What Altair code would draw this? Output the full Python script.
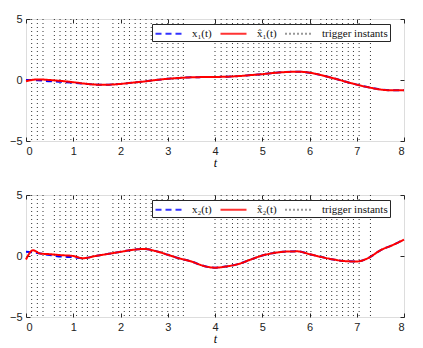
import altair as alt
import pandas as pd

# ---- data ----
t_grid = [0, 0.25, 0.5, 0.75, 1.0, 1.25, 1.5, 1.75, 2.0, 2.25, 2.5, 2.75, 3.0, 3.25,
          3.5, 3.75, 4.0, 4.25, 4.5, 4.75, 5.0, 5.25, 5.5, 5.75, 6.0, 6.25, 6.5,
          6.75, 7.0, 7.25, 7.5, 7.75, 8.0]

x1_true = [0.0, -0.02, -0.1, -0.15, -0.22, -0.3, -0.38, -0.38, -0.32, -0.22, -0.12, 0.0,
           0.1, 0.17, 0.22, 0.24, 0.25, 0.27, 0.32, 0.4, 0.48, 0.58, 0.65, 0.68, 0.6,
           0.4, 0.15, -0.12, -0.38, -0.6, -0.78, -0.85, -0.85]
x1_hat = [-0.1, 0.05, 0.0, -0.08, -0.18, -0.3, -0.38, -0.38, -0.32, -0.22, -0.12, 0.0,
          0.1, 0.17, 0.22, 0.24, 0.25, 0.27, 0.32, 0.4, 0.48, 0.58, 0.65, 0.68, 0.6,
          0.4, 0.15, -0.12, -0.38, -0.6, -0.78, -0.85, -0.85]

t2_grid = [0, 0.15, 0.3, 0.5, 0.75, 1.0, 1.2, 1.5, 1.75, 2.0, 2.25, 2.5, 2.75, 3.0,
           3.25, 3.5, 3.75, 4.0, 4.25, 4.5, 4.75, 5.0, 5.25, 5.5, 5.75, 6.0, 6.25,
           6.5, 6.75, 7.0, 7.25, 7.5, 7.75, 8.0]
x2_true = [0.34, 0.3, 0.2, 0.08, -0.05, -0.1, -0.18, 0.02, 0.18, 0.34, 0.5, 0.58, 0.4,
           0.1, -0.2, -0.45, -0.8, -0.96, -0.85, -0.65, -0.3, 0.04, 0.25, 0.36, 0.38,
           0.15, -0.08, -0.28, -0.42, -0.45, -0.15, 0.47, 0.88, 1.34]
x2_hat = [-0.28, 0.47, 0.2, 0.15, 0.07, 0.0, -0.18, 0.02, 0.18, 0.34, 0.5, 0.58, 0.4,
          0.1, -0.2, -0.45, -0.8, -0.96, -0.85, -0.65, -0.3, 0.04, 0.25, 0.36, 0.38,
          0.15, -0.08, -0.28, -0.42, -0.45, -0.15, 0.47, 0.88, 1.34]

triggers = [0.12, 0.24, 0.36, 0.60, 0.72, 0.84, 0.95, 1.07, 1.19, 1.30, 1.42, 1.53,
            1.84, 1.96, 2.08, 2.19, 2.31, 2.42, 2.54, 2.65, 2.77, 2.88, 3.00, 3.11,
            3.22, 3.33, 4.00, 4.13, 4.25, 4.37, 4.48, 4.59, 4.70, 4.82, 4.93, 5.03,
            5.13, 5.25, 5.36, 5.48, 5.59, 5.71, 5.82, 5.94, 6.03, 6.24, 6.36, 6.47,
            6.58, 6.70, 6.82, 6.93, 7.05, 7.29]

x_ticks = [0, 1, 2, 3, 4, 5, 6, 7, 8]
y_ticks = [-5, 0, 5]

BLUE = "#0000ff"
RED = "#ff0000"
BOX = "#262626"


def panel(t_vals, true_vals, hat_vals, lab_true, lab_hat):
    trig_lab = "trigger instants"
    domain = [lab_true, lab_hat, trig_lab]
    color = alt.Color("series:N", scale=alt.Scale(domain=domain, range=[BLUE, RED, "#000000"]),
                      legend=alt.Legend(title=None, orient="none", legendX=126, legendY=5,
                                        direction="horizontal",
                                        columns=3, fillColor="white", strokeColor=BOX,
                                        padding=2, symbolType="M-2,0H2",
                                        symbolSize=169, symbolStrokeWidth=2,
                                        symbolOffset=7, labelOffset=16,
                                        labelFont="Liberation Serif", labelFontSize=11,
                                        columnPadding=4, labelColor="#111"))
    dash = alt.StrokeDash("series:N",
                          scale=alt.Scale(domain=domain, range=[[6, 4], [1, 0], [1, 3]]),
                          legend=None)
    xs = alt.Scale(domain=[0, 8], nice=False, zero=False)
    ys = alt.Scale(domain=[-5, 5], nice=False)

    df_true = pd.DataFrame({"t": t_vals, "v": true_vals, "series": lab_true})
    df_hat = pd.DataFrame({"t": t_vals, "v": hat_vals, "series": lab_hat})
    df_trig = pd.DataFrame({"t": triggers, "series": trig_lab})

    x_axis = alt.Axis(values=x_ticks, orient="bottom", offset=-4, tickSize=4, labelPadding=4,
                      domain=False, grid=False, title="t", titleFont="Liberation Serif",
                      titleFontStyle="italic", titleFontWeight="normal", titleFontSize=12,
                      titlePadding=1, labelFont="Liberation Sans", labelFontSize=11,
                      labelColor="#222", tickColor=BOX)
    y_axis = alt.Axis(values=y_ticks, orient="left", offset=-4, tickSize=4, labelPadding=4,
                      domain=False, grid=False, title=None, labelFont="Liberation Sans",
                      labelFontSize=11, labelColor="#222", tickColor=BOX)
    x_axis_top = alt.Axis(values=x_ticks, orient="top", offset=-4, tickSize=4, labels=False,
                          domain=False, grid=False, title=None, tickColor=BOX)
    y_axis_right = alt.Axis(values=y_ticks, orient="right", offset=-4, tickSize=4, labels=False,
                            domain=False, grid=False, title=None, tickColor=BOX)

    rules = alt.Chart(df_trig).mark_rule(strokeWidth=1, opacity=0.8).encode(
        x=alt.X("t:Q", scale=xs, axis=None), color=color, strokeDash=dash)
    blue = alt.Chart(df_true).mark_line(strokeWidth=2, interpolate="monotone").encode(
        x=alt.X("t:Q", scale=xs, axis=x_axis),
        y=alt.Y("v:Q", scale=ys, axis=y_axis), color=color, strokeDash=dash)
    red = alt.Chart(df_hat).mark_line(strokeWidth=2, interpolate="monotone").encode(
        x=alt.X("t:Q", scale=xs, axis=x_axis_top),
        y=alt.Y("v:Q", scale=ys, axis=y_axis_right), color=color, strokeDash=dash)
    return alt.layer(rules, blue, red).resolve_axis(x="independent", y="independent").properties(
        width=378, height=122)


top = panel(t_grid, x1_true, x1_hat, "x\u2081(t)", "x\u0302\u2081(t)")
bottom = panel(t2_grid, x2_true, x2_hat, "x\u2082(t)", "x\u0302\u2082(t)")

chart = alt.vconcat(top, bottom, spacing=19).resolve_scale(
    color="independent", strokeDash="independent").properties(
    padding={"left": 0, "top": 4, "right": 5, "bottom": 2}).configure_view(
    stroke=BOX, strokeWidth=1).configure(background="white")

chart.save("out.html", embed_options={"renderer": "svg", "actions": False})
